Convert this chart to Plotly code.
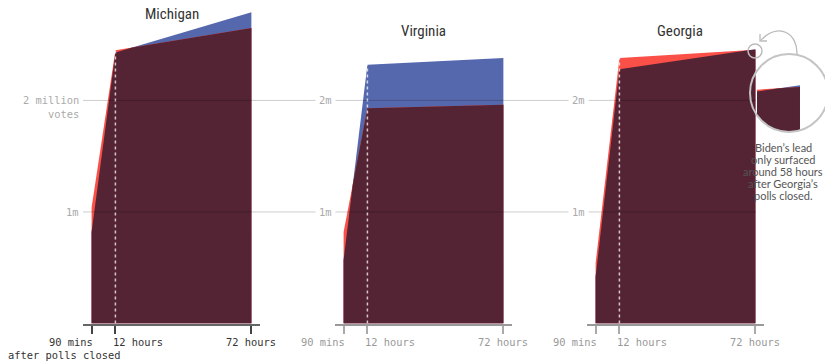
import plotly.graph_objects as go
import numpy as np

# ---------------- data (millions of votes) ----------------
hours = [1.5, 12, 72]
tick_labels = ["90 mins", "12 hours", "72 hours"]
states = ["Michigan", "Virginia", "Georgia"]
biden_mi = [0.82, 2.43, 2.79]
trump_mi = [1.04, 2.45, 2.65]
biden_va = [0.57, 2.32, 2.38]
trump_va = [0.82, 1.93, 1.96]
biden_ga = [0.42, 2.28, 2.459]
trump_ga = [0.54, 2.38, 2.455]
grid_values = [1, 2]
note_lines = ["Biden\u2019s lead", "only surfaced", "around 58 hours",
              "after Georgia\u2019s", "polls closed."]

BLUE = "#5668ad"
RED = "#fa5048"
DARK = "#542334"
W, H = 825, 361
MONO = "DejaVu Sans Mono, Liberation Mono, monospace"
TITLEF = "Liberation Sans Narrow, Roboto Condensed, Roboto, sans-serif"


def px(x):
    return x / W


def py(y):
    return 1 - y / H


def overlap(xs, a, b):
    ox, oy = [xs[0]], [min(a[0], b[0])]
    for i in range(1, len(xs)):
        d0 = a[i - 1] - b[i - 1]
        d1 = a[i] - b[i]
        if d0 * d1 < 0:
            t = d0 / (d0 - d1)
            ox.append(xs[i - 1] + t * (xs[i] - xs[i - 1]))
            oy.append(a[i - 1] + t * (a[i] - a[i - 1]))
        ox.append(xs[i])
        oy.append(min(a[i], b[i]))
    return ox, oy


fig = go.Figure()
panels = [(biden_mi, trump_mi), (biden_va, trump_va), (biden_ga, trump_ga)]
x_domains = [(83, 260), (335, 512), (587, 764)]
y_dom = [py(323.5), 1.0]


def add_area(b, t, xa, ya):
    fig.add_trace(go.Scatter(x=hours, y=b, fill="tozeroy", mode="lines",
                             line=dict(width=0, color=BLUE), fillcolor=BLUE,
                             xaxis=xa, yaxis=ya, hoverinfo="skip"))
    fig.add_trace(go.Scatter(x=hours, y=t, fill="tozeroy", mode="lines",
                             line=dict(width=0, color=RED), fillcolor=RED,
                             xaxis=xa, yaxis=ya, hoverinfo="skip"))
    ox, oy = overlap(hours, b, t)
    fig.add_trace(go.Scatter(x=ox, y=oy, fill="tozeroy", mode="lines",
                             line=dict(width=0, color=DARK), fillcolor=DARK,
                             xaxis=xa, yaxis=ya, hoverinfo="skip"))


for i, (b, t) in enumerate(panels):
    n = "" if i == 0 else str(i + 1)
    xa, ya = "x" + n, "y" + n
    add_area(b, t, xa, ya)
    top12 = max(b[1], t[1])
    fig.add_trace(go.Scatter(x=[hours[1], hours[1]], y=[0, top12], mode="lines",
                             line=dict(color="rgba(255,255,255,0.75)", width=1.5, dash="dot"),
                             xaxis=xa, yaxis=ya, hoverinfo="skip"))
    dark = i == 0
    fig.layout["xaxis" + n] = dict(
        domain=[px(x_domains[i][0]), px(x_domains[i][1])], range=[-2.3, 75.8],
        anchor=ya, showline=True, linewidth=2,
        linecolor="#666" if dark else "#999",
        ticks="outside", tickvals=hours, ticklen=8, tickwidth=1.5,
        tickcolor="#444" if dark else "#aaa",
        showticklabels=False, showgrid=False, zeroline=False, fixedrange=True)
    fig.layout["yaxis" + n] = dict(domain=y_dom, range=[0, 2.9], anchor=xa,
                                   visible=False, fixedrange=True)

# inset (zoom on Georgia's final hours)
add_area(biden_ga, trump_ga, "x4", "y4")
fig.layout["xaxis4"] = dict(domain=[px(757), 1.0], range=[67.26, 74.76], anchor="y4",
                            visible=False, fixedrange=True)
fig.layout["yaxis4"] = dict(domain=[py(134), py(52)], range=[2.3496, 2.5335], anchor="x4",
                            visible=False, fixedrange=True)

shapes = []
# gridlines
for g in grid_values:
    shapes.append(dict(type="line", xref="paper", yref="y", x0=px(83), x1=px(756),
                       y0=g, y1=g, line=dict(color="rgba(0,0,0,0.2)", width=1),
                       layer="above"))

# mask outside the magnifier circle
cx, cy, r = 789, 93, 39
L, R_, T, B = 757, 826, 51, 135
ang = np.linspace(0, 2 * np.pi, 73)
cxs = np.clip(cx + r * np.cos(ang), L, R_)
cys = np.clip(cy + r * np.sin(ang), T, B)
path = f"M{px(L)},{py(T)} L{px(R_)},{py(T)} L{px(R_)},{py(B)} L{px(L)},{py(B)} Z "
path += "M" + " L".join(f"{px(a)},{py(c)}" for a, c in zip(cxs, cys)) + " Z"
shapes.append(dict(type="path", xref="paper", yref="paper", path=path,
                   fillcolor="white", line=dict(width=0), fillrule="evenodd",
                   layer="above"))
# circles
shapes.append(dict(type="circle", xref="paper", yref="paper",
                   x0=px(cx - r), x1=px(cx + r), y0=py(cy + r), y1=py(cy - r),
                   line=dict(color="#c4c4c4", width=2), layer="above"))
scx, scy, sr = 755, 51, 7
shapes.append(dict(type="circle", xref="paper", yref="paper",
                   x0=px(scx - sr), x1=px(scx + sr), y0=py(scy + sr), y1=py(scy - sr),
                   line=dict(color="#bbbbbb", width=1.5), layer="above"))
# curved arrow
arc = (f"M{px(797)},{py(55)} C{px(798)},{py(33)} {px(779)},{py(22)} {px(761)},{py(40)}")
shapes.append(dict(type="path", xref="paper", yref="paper", path=arc,
                   line=dict(color="#bbbbbb", width=1.3), layer="above"))
head = (f"M{px(760)},{py(34)} L{px(760)},{py(41)} L{px(767)},{py(41)}")
shapes.append(dict(type="path", xref="paper", yref="paper", path=head,
                   line=dict(color="#bbbbbb", width=1.3), layer="above"))
fig.update_layout(shapes=shapes)

ann = []
# titles
for name, (x, y) in zip(states, [(172, 14), (423, 31), (680, 31)]):
    ann.append(dict(text=name, x=px(x), y=py(y), xref="paper", yref="paper",
                    showarrow=False, xanchor="center", yanchor="middle",
                    font=dict(family=TITLEF, size=15, color="#333")))
# x tick labels
anchors = [("right", 3), ("left", -4), ("center", 0)]
for i in range(3):
    n = "" if i == 0 else str(i + 1)
    col = "#333" if i == 0 else "#999"
    for h, lab, (xa_, sh) in zip(hours, tick_labels, anchors):
        ann.append(dict(text=lab, x=h, y=py(342), xref="x" + n, yref="paper",
                        showarrow=False, xanchor=xa_, yanchor="middle", xshift=sh,
                        font=dict(family=MONO, size=10.4, color=col)))
ann.append(dict(text="after polls closed", x=px(6), y=py(355), xref="paper", yref="paper",
                showarrow=False, xanchor="left", yanchor="middle",
                font=dict(family=MONO, size=10.4, color="#333")))
# y labels
ann.append(dict(text="2 million", x=px(81), y=2, xref="paper", yref="y", showarrow=False,
                xanchor="right", yanchor="middle", font=dict(family=MONO, size=10.4, color="#aaa")))
ann.append(dict(text="votes", x=px(81), y=2, yshift=-14, xref="paper", yref="y", showarrow=False,
                xanchor="right", yanchor="middle", font=dict(family=MONO, size=10.4, color="#aaa")))
ann.append(dict(text="1m", x=px(81), y=1, xref="paper", yref="y", showarrow=False,
                xanchor="right", yanchor="middle", font=dict(family=MONO, size=10.4, color="#aaa")))
for xc in (325, 578):
    for g in grid_values:
        ann.append(dict(text=f"{g}m", x=px(xc), y=g, xref="paper", yref="y", showarrow=False,
                        xanchor="center", yanchor="middle", bgcolor="white", borderpad=3,
                        font=dict(family=MONO, size=10.4, color="#aaa")))
# note
for k, line in enumerate(note_lines):
    ann.append(dict(text=line, x=px(783), y=py(147 + 12.2 * k), xref="paper", yref="paper",
                    showarrow=False, xanchor="center", yanchor="middle",
                    font=dict(family="Lato, Roboto, sans-serif", size=11, color="#555")))

fig.update_layout(annotations=ann, width=W, height=H,
                  margin=dict(l=0, r=0, t=0, b=0),
                  paper_bgcolor="white", plot_bgcolor="rgba(0,0,0,0)",
                  showlegend=False)
fig.write_html("out.html", config={"displayModeBar": False},
               post_script="document.body.style.margin='0';document.body.style.padding='0';"
                           "document.body.style.overflow='hidden';")
